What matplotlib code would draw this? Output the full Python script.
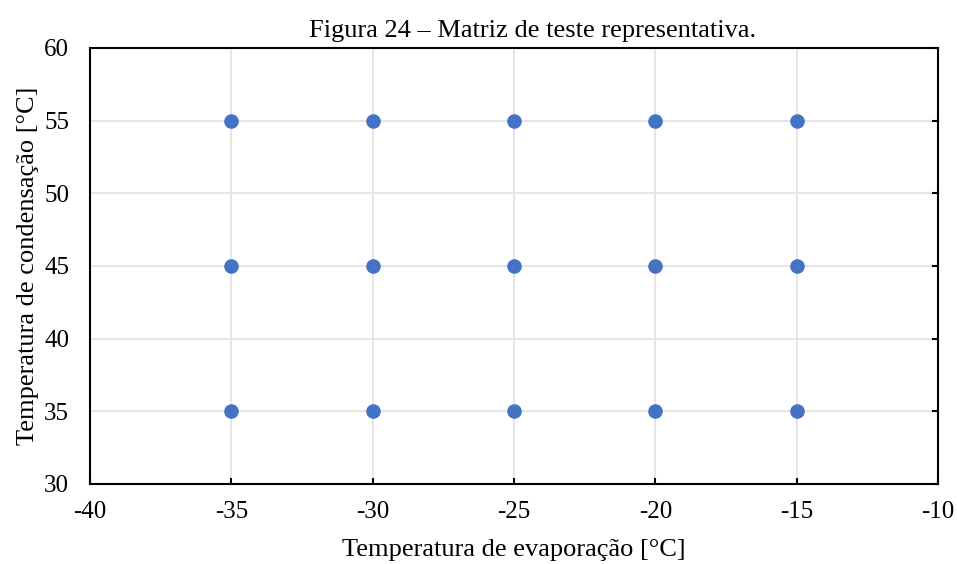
import matplotlib
matplotlib.use("Agg")
import matplotlib.pyplot as plt

plt.rcParams['font.family'] = ['Liberation Serif', 'DejaVu Serif']

evap = [-35, -30, -25, -20, -15, -35, -30, -25, -20, -15, -35, -30, -25, -20, -15]
cond = [55, 55, 55, 55, 55, 45, 45, 45, 45, 45, 35, 35, 35, 35, 35]
xticks = [-40, -35, -30, -25, -20, -15, -10]
yticks = [30, 35, 40, 45, 50, 55, 60]

fig = plt.figure(figsize=(9.57, 5.64), dpi=100)
ax = fig.add_axes([90/957, 1-484/564, (938-90)/957, (484-48)/564])
ax.scatter(evap, cond, s=10.5**2, color='#4472C4', zorder=3, linewidths=0)
ax.set_xlim(-40, -10)
ax.set_ylim(30, 60)
ax.set_xticks(xticks)
ax.set_yticks(yticks)
ax.set_xticklabels([str(v) for v in xticks])
ax.set_yticklabels([str(v) for v in yticks])
ax.grid(True, color='#e3e3e3', linewidth=1.3, zorder=0)
ax.set_axisbelow(True)
for s in ax.spines.values():
    s.set_linewidth(1.5)
    s.set_color('black')
ax.tick_params(axis='x', direction='in', length=4, width=1.5, labelsize=18, pad=12, top=False)
ax.tick_params(axis='y', direction='in', length=4, width=1.5, labelsize=18, pad=15, left=False, right=True, labelleft=True)
ax.set_xlabel('Temperatura de evaporação [°C]', fontsize=19, labelpad=12)
ax.set_ylabel('Temperatura de condensação [°C]', fontsize=19, labelpad=4)
ax.set_title('Figura 24 – Matriz de teste representativa.', fontsize=19, pad=8, x=0.522)
fig.savefig('out.png', dpi=100)
